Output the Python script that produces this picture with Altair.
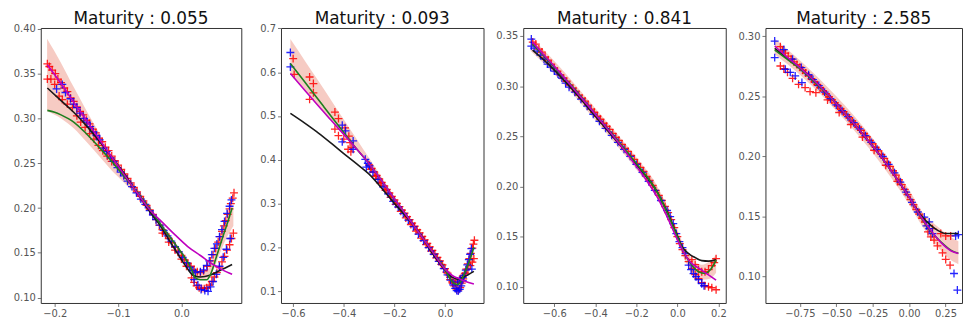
import altair as alt
import pandas as pd

TITLES = ["Maturity : 0.055", "Maturity : 0.093", "Maturity : 0.841", "Maturity : 2.585"]
X_DOMAINS = [[-0.222, 0.0945], [-0.648, 0.152], [-0.7515, 0.236], [-0.9865, 0.364]]
Y_DOMAINS = [[0.094, 0.401], [0.0727, 0.701], [0.0838, 0.358], [0.0776, 0.307]]
X_TICKS = [[-0.2, -0.1, 0.0], [-0.6, -0.4, -0.2, 0.0], [-0.6, -0.4, -0.2, 0.0, 0.2],
           [-0.75, -0.5, -0.25, 0.0, 0.25]]
Y_TICKS = [[0.10, 0.15, 0.20, 0.25, 0.30, 0.35, 0.40], [0.1, 0.2, 0.3, 0.4, 0.5, 0.6, 0.7],
           [0.10, 0.15, 0.20, 0.25, 0.30, 0.35], [0.10, 0.15, 0.20, 0.25, 0.30]]
X_FMT = [".1f", ".1f", ".1f", ".2f"]
Y_FMT = [".2f", ".1f", ".2f", ".2f"]

# ---------------- panel 1 ----------------
P1_BAND_X = [-0.212, -0.19, -0.17, -0.15, -0.13, -0.11, -0.09, -0.07, -0.05, -0.03, -0.01, 0.01, 0.02, 0.03, 0.04, 0.05, 0.06, 0.07, 0.082]
P1_BAND_LO = [0.308, 0.300, 0.289, 0.274, 0.258, 0.242, 0.228, 0.213, 0.196, 0.176, 0.157, 0.136, 0.126, 0.120, 0.121, 0.130, 0.148, 0.165, 0.180]
P1_BAND_HI = [0.389, 0.362, 0.335, 0.309, 0.284, 0.258, 0.240, 0.222, 0.202, 0.182, 0.162, 0.142, 0.133, 0.128, 0.130, 0.145, 0.165, 0.185, 0.205]
P1_BLACK_X = [-0.2116, -0.19, -0.17, -0.15, -0.13, -0.11, -0.09, -0.07, -0.05, -0.035, -0.02, -0.005, 0.008, 0.018, 0.03, 0.045, 0.06, 0.08]
P1_BLACK_Y = [0.334, 0.320, 0.307, 0.292, 0.275, 0.257, 0.238, 0.217, 0.196, 0.182, 0.165, 0.148, 0.134, 0.125, 0.123, 0.125, 0.130, 0.137]
P1_GREEN_X = [-0.2116, -0.20, -0.19, -0.17, -0.15, -0.13, -0.11, -0.09, -0.07, -0.05, -0.03, -0.01, 0.005, 0.015, 0.022, 0.03, 0.04, 0.046, 0.055, 0.065, 0.073, 0.08]
P1_GREEN_Y = [0.309, 0.307, 0.304, 0.296, 0.283, 0.268, 0.252, 0.235, 0.218, 0.199, 0.179, 0.160, 0.145, 0.133, 0.122, 0.120, 0.120, 0.126, 0.145, 0.167, 0.184, 0.200]
P1_MAG_X = [-0.2116, -0.19, -0.17, -0.15, -0.13, -0.11, -0.09, -0.07, -0.05, -0.03, -0.01, 0.01, 0.03, 0.05, 0.065, 0.08]
P1_MAG_Y = [0.360, 0.339, 0.318, 0.298, 0.277, 0.257, 0.237, 0.217, 0.198, 0.184, 0.170, 0.157, 0.147, 0.137, 0.131, 0.126]
P1_RED = [(-0.2116, 0.361), (-0.2085, 0.358), (-0.2040, 0.354), (-0.1990, 0.350), (-0.1950, 0.344), (-0.1900, 0.340),
          (-0.1850, 0.334), (-0.1800, 0.330), (-0.1750, 0.323), (-0.1700, 0.319), (-0.1650, 0.313), (-0.1600, 0.308),
          (-0.1550, 0.304), (-0.1500, 0.298), (-0.1450, 0.294), (-0.1400, 0.288), (-0.1350, 0.284), (-0.1300, 0.278),
          (-0.1250, 0.274), (-0.1200, 0.268), (-0.1150, 0.264), (-0.1100, 0.258), (-0.1050, 0.253), (-0.1000, 0.248),
          (-0.0950, 0.243), (-0.0900, 0.238), (-0.0850, 0.233), (-0.0800, 0.228), (-0.0750, 0.223), (-0.0700, 0.218),
          (-0.0650, 0.213), (-0.0600, 0.208), (-0.0550, 0.203), (-0.0500, 0.198), (-0.0450, 0.193), (-0.0400, 0.187),
          (-0.0350, 0.181), (-0.0300, 0.176), (-0.0250, 0.171), (-0.0200, 0.166), (-0.0150, 0.161), (-0.0100, 0.156),
          (-0.0050, 0.151), (0.0000, 0.147), (0.0050, 0.142), (0.0100, 0.138), (0.0150, 0.135), (0.0200, 0.131),
          (0.0250, 0.129), (0.0300, 0.128), (0.0350, 0.130), (0.0410, 0.135), (0.0460, 0.141), (0.0500, 0.148),
          (0.0540, 0.155), (0.0580, 0.162), (0.0610, 0.168), (0.0640, 0.174), (0.0670, 0.180), (0.0700, 0.186),
          (0.0730, 0.193), (0.0760, 0.199), (0.0780, 0.205), (0.0810, 0.211), (0.0830, 0.217),
          (-0.2116, 0.344), (-0.2060, 0.344), (-0.2000, 0.338), (-0.1930, 0.325), (-0.1880, 0.321), (-0.1800, 0.316),
          (-0.1720, 0.312), (-0.1650, 0.303), (-0.1590, 0.296), (-0.1520, 0.290), (-0.1450, 0.283), (-0.1380, 0.277),
          (-0.1310, 0.270), (-0.1240, 0.264), (-0.1170, 0.258), (-0.1100, 0.252), (-0.0300, 0.172), (-0.0200, 0.162),
          (-0.0100, 0.153), (0.0000, 0.143), (0.0080, 0.135), (0.0160, 0.122), (0.0200, 0.117), (0.0240, 0.113),
          (0.0280, 0.111), (0.0320, 0.110), (0.0360, 0.110), (0.0400, 0.111), (0.0440, 0.114), (0.0480, 0.118),
          (0.0520, 0.123), (0.0560, 0.128), (0.0600, 0.134), (0.0640, 0.140), (0.0680, 0.146), (0.0720, 0.153),
          (0.0760, 0.159), (0.0790, 0.166), (0.0820, 0.172)]
P1_BLUE = [(-0.197, 0.333), (-0.188, 0.338), (-0.183, 0.329), (-0.175, 0.322), (-0.170, 0.316), (-0.165, 0.312),
           (-0.160, 0.306), (-0.154, 0.300), (-0.149, 0.296), (-0.144, 0.291), (-0.139, 0.285), (-0.134, 0.281),
           (-0.129, 0.276), (-0.123, 0.267), (-0.118, 0.263), (-0.112, 0.256), (-0.107, 0.252), (-0.101, 0.245),
           (-0.096, 0.240), (-0.091, 0.236), (-0.085, 0.230), (-0.078, 0.224), (-0.071, 0.217), (-0.064, 0.210),
           (-0.057, 0.204), (-0.050, 0.197), (-0.045, 0.192), (-0.040, 0.187), (-0.034, 0.181), (-0.028, 0.175),
           (-0.022, 0.169), (-0.016, 0.163), (-0.010, 0.157), (-0.004, 0.151), (0.002, 0.145), (0.008, 0.139),
           (0.013, 0.134), (0.018, 0.130), (0.022, 0.128),
           (0.020, 0.120), (0.026, 0.114), (0.031, 0.109), (0.037, 0.108), (0.042, 0.107), (0.046, 0.112),
           (0.050, 0.118), (0.055, 0.126), (0.060, 0.135), (0.066, 0.145), (0.071, 0.154), (0.077, 0.166),
           (0.030, 0.129), (0.035, 0.131), (0.040, 0.136), (0.044, 0.141), (0.048, 0.148), (0.052, 0.155),
           (0.056, 0.160), (0.060, 0.168), (0.064, 0.176), (0.068, 0.185), (0.072, 0.194), (0.076, 0.202),
           (0.079, 0.209)]

# ---------------- panel 2 ----------------
P2_BAND_X = [-0.611, -0.55, -0.5, -0.45, -0.4, -0.35, -0.3, -0.25, -0.2, -0.15, -0.1, -0.05, 0.0, 0.03, 0.06, 0.09, 0.114]
P2_BAND_LO = [0.597, 0.556, 0.523, 0.490, 0.458, 0.425, 0.390, 0.350, 0.308, 0.269, 0.229, 0.188, 0.148, 0.118, 0.112, 0.140, 0.170]
P2_BAND_HI = [0.676, 0.623, 0.580, 0.536, 0.492, 0.448, 0.404, 0.360, 0.316, 0.274, 0.233, 0.192, 0.152, 0.128, 0.130, 0.165, 0.205]
P2_BLACK_X = [-0.611, -0.55, -0.5, -0.45, -0.4, -0.35, -0.3, -0.25, -0.2, -0.15, -0.1, -0.05, 0.0, 0.025, 0.05, 0.08, 0.114]
P2_BLACK_Y = [0.506, 0.482, 0.461, 0.438, 0.414, 0.391, 0.367, 0.335, 0.300, 0.268, 0.232, 0.186, 0.148, 0.133, 0.127, 0.134, 0.145]
P2_GREEN_X = [-0.611, -0.56, -0.52, -0.48, -0.44, -0.40, -0.35, -0.31, -0.25, -0.2, -0.15, -0.1, -0.05, 0.0, 0.02, 0.04, 0.05, 0.06, 0.08, 0.1, 0.114]
P2_GREEN_Y = [0.620, 0.582, 0.552, 0.522, 0.492, 0.462, 0.425, 0.398, 0.352, 0.311, 0.271, 0.231, 0.190, 0.150, 0.128, 0.116, 0.115, 0.120, 0.145, 0.175, 0.200]
P2_MAG_X = [-0.611, -0.55, -0.5, -0.45, -0.4, -0.35, -0.31, -0.25, -0.2, -0.15, -0.1, -0.05, 0.0, 0.03, 0.06, 0.09, 0.114]
P2_MAG_Y = [0.597, 0.556, 0.523, 0.490, 0.458, 0.425, 0.398, 0.352, 0.311, 0.271, 0.231, 0.190, 0.150, 0.135, 0.127, 0.120, 0.116]
P2_RED = [(-0.600, 0.631), (-0.596, 0.595), (-0.535, 0.589), (-0.520, 0.574), (-0.535, 0.538), (-0.520, 0.553),
          (-0.435, 0.509), (-0.421, 0.494), (-0.435, 0.470), (-0.421, 0.455), (-0.395, 0.473), (-0.400, 0.447),
          (-0.383, 0.424), (-0.375, 0.439), (-0.368, 0.428), (-0.380, 0.454), (-0.372, 0.418),
          (-0.300, 0.388), (-0.290, 0.380), (-0.280, 0.372), (-0.270, 0.364), (-0.260, 0.356), (-0.250, 0.348),
          (-0.240, 0.340), (-0.230, 0.332), (-0.220, 0.324), (-0.210, 0.316), (-0.200, 0.308), (-0.190, 0.300),
          (-0.180, 0.293), (-0.170, 0.285), (-0.160, 0.278), (-0.150, 0.270), (-0.140, 0.263), (-0.130, 0.255),
          (-0.120, 0.248), (-0.110, 0.240), (-0.100, 0.233), (-0.090, 0.225), (-0.080, 0.217), (-0.070, 0.209),
          (-0.060, 0.201), (-0.050, 0.193), (-0.040, 0.185), (-0.030, 0.177), (-0.020, 0.169), (-0.010, 0.160),
          (0.000, 0.151), (0.010, 0.141), (0.020, 0.131), (0.028, 0.121), (0.036, 0.112), (0.044, 0.105),
          (0.052, 0.102), (0.060, 0.108), (0.066, 0.118), (0.072, 0.128), (0.078, 0.139), (0.084, 0.150),
          (0.090, 0.162), (0.096, 0.174), (0.102, 0.186), (0.108, 0.198), (0.112, 0.207), (0.116, 0.216),
          (-0.295, 0.378), (-0.275, 0.362), (-0.255, 0.346), (-0.235, 0.330), (-0.215, 0.314), (-0.195, 0.298),
          (-0.175, 0.282), (-0.155, 0.267), (-0.135, 0.252), (-0.115, 0.237), (-0.095, 0.221), (-0.075, 0.206),
          (-0.055, 0.191), (-0.035, 0.176), (-0.015, 0.161), (0.005, 0.143), (0.020, 0.126), (0.030, 0.118),
          (0.040, 0.120), (0.050, 0.123), (0.060, 0.128), (0.070, 0.134), (0.080, 0.141), (0.090, 0.150),
          (0.100, 0.158), (0.108, 0.166), (0.114, 0.174)]
P2_BLUE = [(-0.611, 0.645), (-0.611, 0.612), (-0.406, 0.479), (-0.393, 0.466), (-0.406, 0.441), (-0.363, 0.443),
           (-0.363, 0.424), (-0.315, 0.401), (-0.311, 0.383), (-0.298, 0.386), (-0.305, 0.392), (-0.285, 0.372),
           (-0.265, 0.355), (-0.245, 0.338), (-0.225, 0.322), (-0.205, 0.305), (-0.185, 0.292), (-0.165, 0.277),
           (-0.145, 0.262), (-0.125, 0.247), (-0.105, 0.230), (-0.085, 0.215), (-0.065, 0.199), (-0.045, 0.184),
           (-0.025, 0.168), (-0.005, 0.151), (0.010, 0.137), (0.022, 0.125), (0.032, 0.114), (0.040, 0.106),
           (0.046, 0.101), (0.052, 0.100), (0.058, 0.104), (0.064, 0.112), (0.070, 0.124), (0.076, 0.136),
           (0.082, 0.148), (0.088, 0.160), (0.094, 0.172), (0.099, 0.184), (0.104, 0.197), (0.050, 0.121),
           (0.060, 0.126), (0.070, 0.131), (0.106, 0.150)]

# ---------------- panel 3 ----------------
P3_BAND_X = [-0.715, -0.6, -0.5, -0.4, -0.3, -0.2, -0.1, 0.0, 0.04, 0.08, 0.12, 0.16, 0.189]
P3_BAND_LO = [0.335, 0.312, 0.290, 0.266, 0.242, 0.217, 0.189, 0.145, 0.125, 0.112, 0.107, 0.108, 0.114]
P3_BAND_HI = [0.349, 0.325, 0.302, 0.278, 0.254, 0.229, 0.201, 0.157, 0.137, 0.126, 0.122, 0.126, 0.132]
P3_BLACK_X = [-0.706, -0.65, -0.6, -0.5, -0.4, -0.3, -0.2, -0.1, -0.05, 0.0, 0.023, 0.055, 0.087, 0.119, 0.152, 0.189]
P3_BLACK_Y = [0.336, 0.326, 0.316, 0.294, 0.270, 0.246, 0.222, 0.195, 0.175, 0.151, 0.140, 0.133, 0.129, 0.126, 0.1255, 0.127]
P3_GREEN_X = [-0.706, -0.65, -0.6, -0.5, -0.4, -0.3, -0.2, -0.1, -0.05, 0.0, 0.039, 0.071, 0.103, 0.135, 0.16, 0.189]
P3_GREEN_Y = [0.342, 0.330, 0.319, 0.297, 0.272, 0.248, 0.223, 0.195, 0.174, 0.150, 0.1315, 0.1215, 0.115, 0.1133, 0.1166, 0.1265]
P3_MAG_X = [-0.706, -0.65, -0.6, -0.5, -0.4, -0.3, -0.2, -0.15, -0.1, -0.05, 0.0, 0.055, 0.119, 0.189]
P3_MAG_Y = [0.344, 0.331, 0.320, 0.296, 0.272, 0.247, 0.220, 0.206, 0.190, 0.170, 0.147, 0.1265, 0.1166, 0.1066]
P3_RED = [(-0.705, 0.344), (-0.690, 0.342), (-0.675, 0.337), (-0.660, 0.334), (-0.645, 0.329), (-0.630, 0.326),
          (-0.615, 0.322), (-0.600, 0.318), (-0.585, 0.315), (-0.570, 0.311), (-0.555, 0.308), (-0.540, 0.305),
          (-0.525, 0.301), (-0.510, 0.298), (-0.495, 0.295), (-0.480, 0.291), (-0.465, 0.288), (-0.450, 0.285),
          (-0.435, 0.281), (-0.420, 0.277), (-0.405, 0.274), (-0.390, 0.270), (-0.375, 0.267), (-0.360, 0.263),
          (-0.345, 0.260), (-0.330, 0.257), (-0.315, 0.253), (-0.300, 0.249), (-0.285, 0.246), (-0.270, 0.242),
          (-0.255, 0.238), (-0.240, 0.235), (-0.225, 0.231), (-0.210, 0.227), (-0.195, 0.223), (-0.180, 0.219),
          (-0.165, 0.215), (-0.150, 0.210), (-0.135, 0.206), (-0.120, 0.201), (-0.105, 0.196), (-0.090, 0.191),
          (-0.075, 0.186), (-0.060, 0.180), (-0.045, 0.174), (-0.030, 0.167), (-0.015, 0.159), (0.000, 0.150),
          (0.012, 0.143), (0.025, 0.137), (0.039, 0.131), (0.055, 0.125), (0.071, 0.118), (0.087, 0.112),
          (0.103, 0.108), (0.119, 0.104), (0.135, 0.101), (0.152, 0.100), (0.168, 0.099), (0.189, 0.097),
          (0.071, 0.127), (0.087, 0.122), (0.103, 0.117), (0.119, 0.115), (0.135, 0.115), (0.152, 0.117),
          (0.168, 0.121), (0.180, 0.124), (0.189, 0.128)]
P3_BLUE = [(-0.712, 0.347), (-0.712, 0.340), (-0.698, 0.338), (-0.683, 0.335), (-0.668, 0.331), (-0.650, 0.327),
           (-0.633, 0.322), (-0.618, 0.319), (-0.600, 0.315), (-0.582, 0.312), (-0.563, 0.308), (-0.545, 0.303),
           (-0.528, 0.299), (-0.500, 0.294), (-0.470, 0.287), (-0.440, 0.280), (-0.410, 0.272), (-0.380, 0.265),
           (-0.350, 0.258), (-0.320, 0.251), (-0.290, 0.244), (-0.260, 0.237), (-0.230, 0.230), (-0.200, 0.222),
           (-0.170, 0.214), (-0.140, 0.205), (-0.110, 0.196), (-0.080, 0.186), (-0.050, 0.176), (-0.035, 0.170),
           (-0.020, 0.163), (-0.005, 0.153), (0.010, 0.145), (0.025, 0.139), (0.040, 0.133), (0.055, 0.1215),
           (0.067, 0.117), (0.079, 0.113), (0.091, 0.110), (0.103, 0.107), (0.119, 0.103), (0.130, 0.101)]

# ---------------- panel 4 ----------------
P4_BAND_X = [-0.923, -0.75, -0.5, -0.25, 0.0, 0.1, 0.2, 0.28, 0.339]
P4_BAND_LO = [0.285, 0.268, 0.238, 0.203, 0.160, 0.140, 0.124, 0.114, 0.110]
P4_BAND_HI = [0.298, 0.280, 0.250, 0.215, 0.172, 0.152, 0.141, 0.133, 0.129]
P4_BLACK_X = [-0.923, -0.85, -0.75, -0.65, -0.5, -0.4, -0.3, -0.2, -0.1, 0.0, 0.08, 0.15, 0.2, 0.26, 0.339]
P4_BLACK_Y = [0.290, 0.283, 0.274, 0.263, 0.244, 0.230, 0.216, 0.201, 0.184, 0.166, 0.151, 0.1424, 0.138, 0.1355, 0.1355]
P4_GREEN_X = [-0.923, -0.85, -0.75, -0.65, -0.5, -0.4, -0.3, -0.2, -0.1, 0.0, 0.08, 0.15, 0.22, 0.29, 0.339]
P4_GREEN_Y = [0.2886, 0.282, 0.273, 0.262, 0.244, 0.230, 0.216, 0.201, 0.184, 0.166, 0.1495, 0.1375, 0.1285, 0.1215, 0.119]
P4_MAG_X = [-0.923, -0.85, -0.75, -0.65, -0.5, -0.4, -0.3, -0.2, -0.1, 0.0, 0.08, 0.15, 0.22, 0.29, 0.339]
P4_MAG_Y = [0.292, 0.284, 0.274, 0.263, 0.244, 0.230, 0.216, 0.201, 0.184, 0.166, 0.150, 0.138, 0.128, 0.121, 0.1188]
P4_RED = [(-0.884, 0.2914), (-0.870, 0.2880), (-0.850, 0.2860), (-0.830, 0.2835), (-0.810, 0.2810), (-0.790, 0.2787),
          (-0.770, 0.2765), (-0.750, 0.2742), (-0.730, 0.2718), (-0.710, 0.2694), (-0.690, 0.2670), (-0.670, 0.2645),
          (-0.650, 0.2620), (-0.630, 0.2597), (-0.610, 0.2572), (-0.590, 0.2546), (-0.570, 0.2520), (-0.550, 0.2495),
          (-0.530, 0.2470), (-0.510, 0.2445), (-0.490, 0.2420), (-0.470, 0.2396), (-0.450, 0.2372), (-0.430, 0.2345),
          (-0.410, 0.2320), (-0.390, 0.2295), (-0.370, 0.2268), (-0.350, 0.2243), (-0.330, 0.2216), (-0.310, 0.2190),
          (-0.290, 0.2162), (-0.270, 0.2133), (-0.250, 0.2104), (-0.230, 0.2075), (-0.210, 0.2045), (-0.190, 0.2015),
          (-0.170, 0.1983), (-0.150, 0.1950), (-0.130, 0.1916), (-0.110, 0.1880), (-0.090, 0.1843), (-0.070, 0.1804),
          (-0.050, 0.1764), (-0.030, 0.1723), (-0.010, 0.1680), (0.010, 0.1638), (0.030, 0.1597), (0.050, 0.1556),
          (0.070, 0.1518), (0.090, 0.1482), (0.110, 0.1450),
          (-0.884, 0.2753), (-0.860, 0.2730), (-0.835, 0.2700), (-0.800, 0.2650), (-0.759, 0.2600), (-0.714, 0.2573),
          (-0.680, 0.2540), (-0.640, 0.2530), (-0.560, 0.2470), (-0.480, 0.2365), (-0.400, 0.2265), (-0.320, 0.2160),
          (-0.240, 0.2050), (-0.160, 0.1925), (-0.080, 0.1790),
          (0.161, 0.1396), (0.218, 0.1355), (0.252, 0.1335), (0.286, 0.1335), (0.150, 0.1327), (0.195, 0.1252),
          (0.230, 0.1194), (0.252, 0.1139), (0.282, 0.1091), (0.130, 0.1370), (0.172, 0.1300)]
P4_BLUE = [(-0.923, 0.2961), (-0.923, 0.2823), (-0.850, 0.2726), (-0.816, 0.2700), (-0.782, 0.2670), (-0.736, 0.2615),
           (-0.860, 0.2890), (-0.800, 0.2810), (-0.740, 0.2740), (-0.690, 0.2680), (-0.660, 0.2640), (-0.620, 0.2590),
           (-0.580, 0.2535), (-0.540, 0.2480), (-0.500, 0.2428), (-0.460, 0.2380), (-0.420, 0.2330), (-0.380, 0.2280),
           (-0.340, 0.2228), (-0.300, 0.2172), (-0.260, 0.2115), (-0.220, 0.2058), (-0.180, 0.1998), (-0.140, 0.1932),
           (-0.100, 0.1862), (-0.060, 0.1785), (-0.020, 0.1700), (0.020, 0.1615), (0.060, 0.1535), (0.105, 0.1493),
           (0.139, 0.1452), (0.320, 0.1335), (0.339, 0.1346), (0.139, 0.1396), (0.161, 0.1355), (0.309, 0.1022),
           (0.332, 0.0884), (0.120, 0.1420)]

PANELS = [
    dict(band=(P1_BAND_X, P1_BAND_LO, P1_BAND_HI), black=(P1_BLACK_X, P1_BLACK_Y), green=(P1_GREEN_X, P1_GREEN_Y),
         mag=(P1_MAG_X, P1_MAG_Y), red=P1_RED, blue=P1_BLUE, width=202),
    dict(band=(P2_BAND_X, P2_BAND_LO, P2_BAND_HI), black=(P2_BLACK_X, P2_BLACK_Y), green=(P2_GREEN_X, P2_GREEN_Y),
         mag=(P2_MAG_X, P2_MAG_Y), red=P2_RED, blue=P2_BLUE, width=204),
    dict(band=(P3_BAND_X, P3_BAND_LO, P3_BAND_HI), black=(P3_BLACK_X, P3_BLACK_Y), green=(P3_GREEN_X, P3_GREEN_Y),
         mag=(P3_MAG_X, P3_MAG_Y), red=P3_RED, blue=P3_BLUE, width=204),
    dict(band=(P4_BAND_X, P4_BAND_LO, P4_BAND_HI), black=(P4_BLACK_X, P4_BLACK_Y), green=(P4_GREEN_X, P4_GREEN_Y),
         mag=(P4_MAG_X, P4_MAG_Y), red=P4_RED, blue=P4_BLUE, width=198),
]

LINE_COLORS = {"black": "#1a1a1a", "green": "#1f7f1f", "mag": "#bf00bf"}
PLUS = "M-1,0L1,0M0,-1L0,1"
HEIGHT = 277


def make_panel(i, p):
    xs = alt.Scale(domain=X_DOMAINS[i], nice=False, zero=False)
    ys = alt.Scale(domain=Y_DOMAINS[i], nice=False, zero=False)
    ext = 32 if i == 0 else 30
    xa = alt.Axis(values=X_TICKS[i], format=X_FMT[i], title=None)
    ya = alt.Axis(values=Y_TICKS[i], format=Y_FMT[i], title=None, minExtent=ext, maxExtent=ext)

    bx, blo, bhi = p["band"]
    band_df = pd.DataFrame({"x": bx, "lo": blo, "hi": bhi})
    band = alt.Chart(band_df).mark_area(color="#ec8b7a", opacity=0.45, interpolate="monotone", clip=True).encode(
        x=alt.X("x:Q", scale=xs, axis=xa), y=alt.Y("lo:Q", scale=ys, axis=ya), y2="hi:Q")

    rows = []
    for name in ["black", "green", "mag"]:
        lx, ly = p[name]
        for k, (a, b) in enumerate(zip(lx, ly)):
            rows.append({"x": a, "y": b, "s": name, "c": LINE_COLORS[name], "k": k})
    line_df = pd.DataFrame(rows)
    lines = alt.Chart(line_df).mark_line(strokeWidth=1.6, interpolate="monotone", clip=True).encode(
        x=alt.X("x:Q", scale=xs, axis=xa), y=alt.Y("y:Q", scale=ys, axis=ya),
        color=alt.Color("c:N", scale=None), detail="s:N", order="k:Q")

    prow = [{"x": a, "y": b, "c": "#ff0000"} for a, b in p["red"]]
    prow += [{"x": a, "y": b, "c": "#0000ff"} for a, b in p["blue"]]
    pts_df = pd.DataFrame(prow)
    pts = alt.Chart(pts_df).mark_point(shape=PLUS, size=64, strokeWidth=1.3, filled=False, opacity=0.85,
                                       clip=True).encode(
        x=alt.X("x:Q", scale=xs, axis=xa), y=alt.Y("y:Q", scale=ys, axis=ya),
        color=alt.Color("c:N", scale=None))

    title_df = pd.DataFrame({"t": [TITLES[i]]})
    title = alt.Chart(title_df).mark_text(font="DejaVu Sans", fontSize=17, color="#111111", align="center",
                                          baseline="alphabetic").encode(
        x=alt.value(p["width"] / 2), y=alt.value(-4), text="t:N")

    return alt.layer(band, pts, lines, title).properties(width=p["width"], height=HEIGHT)


chart = alt.hconcat(*[make_panel(i, p) for i, p in enumerate(PANELS)], spacing=40, bounds="flush").properties(
    padding=0
).configure_view(stroke="#333333", strokeWidth=1).configure_axis(
    grid=False, domain=False, labelFont="DejaVu Sans", labelFontSize=10, labelColor="#555555",
    tickColor="#555555", tickSize=3.5, tickWidth=0.8, labelPadding=2
)

chart.save("out.html", embed_options={"renderer": "svg", "actions": False})
